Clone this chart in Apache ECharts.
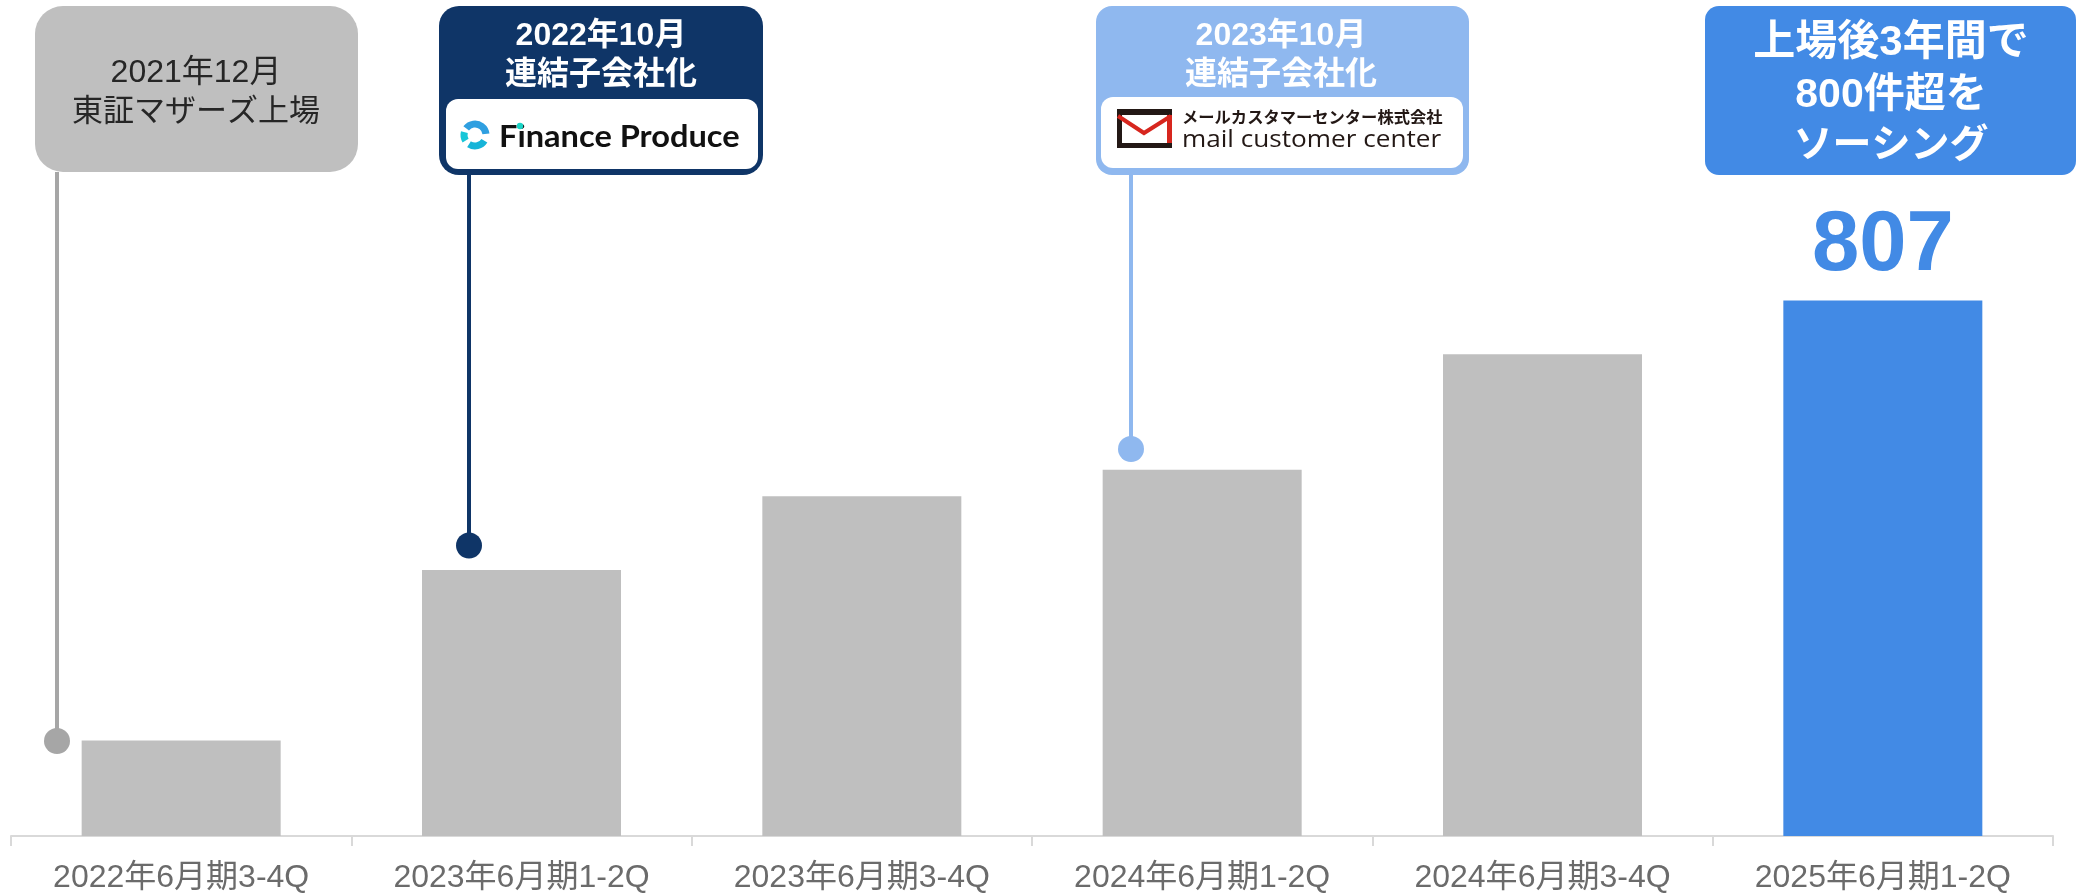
<!DOCTYPE html>
<html><head><meta charset="utf-8">
<style>html,body{margin:0;padding:0;background:#fff}#c{width:2076px;height:894px}</style>
<script src="https://cdn.jsdelivr.net/npm/echarts@6/dist/echarts.min.js"></script>
</head><body><div id="c"></div>
<script>
const categories = ['2022年6月期3-4Q','2023年6月期1-2Q','2023年6月期3-4Q','2024年6月期1-2Q','2024年6月期3-4Q','2025年6月期1-2Q'];
const sourcingValues = [144, 401, 512, 552, 726, 807];
const barColors = ['#bfbfbf','#bfbfbf','#bfbfbf','#bfbfbf','#bfbfbf','#428ae5'];
const font = '"Liberation Sans","Noto Sans CJK JP",sans-serif';

function box(x,y,w,h,r,fill){return {type:'rect',shape:{x,y,width:w,height:h,r},style:{fill},z:10};}
function label(text,x,y,size,color,weight){return {type:'text',x,y,z:12,style:{text,fill:color,font:`${weight} ${size}px ${font}`,textAlign:'center',textVerticalAlign:'middle'}};}
function stem(x,y1,y2,color){return [
 {type:'line',shape:{x1:x,y1,x2:x,y2},style:{stroke:color,lineWidth:4},z:5},
 {type:'circle',shape:{cx:x,cy:y2,r:13},style:{fill:color},z:6}];}
function arc(cx,cy,r,a,b,color){return {type:'arc',shape:{cx,cy,r,startAngle:a,endAngle:b},style:{stroke:color,lineWidth:7,fill:null},z:12};}
function bar(x,y,w,h,fill){return {type:'rect',shape:{x,y,width:w,height:h},style:{fill},z:12};}

const graphics = [
 ...stem(57,172,741,'#a6a6a6'),
 ...stem(469,175,545.5,'#0f3567'),
 ...stem(1131,175,449,'#8fb8ef'),
 box(35,6,323,166,28,'#bfbfbf'),
 label('2021年12月',196,73,32,'#262626','normal'),
 label('東証マザーズ上場',196,112,31,'#262626','normal'),
 box(439,6,324,169,20,'#0f3567'),
 label('2022年10月',601,36,32,'#fff','bold'),
 label('連結子会社化',601,75,32,'#fff','bold'),
 box(446,99,312,70,12,'#fff'),
 arc(475,135,11,-2.5,-0.1,'#2f9fe0'),
 arc(475,135,11,0.55,2.15,'#17b4d8'),
 arc(475,135,11,2.6,3.4,'#18c6d8'),
 {type:'text',x:499,y:137,scaleX:1.086,z:12,style:{text:'Finance Produce',fill:'#111',font:'bold 30px Lato,sans-serif',textAlign:'left',textVerticalAlign:'middle'}},
 {type:'circle',shape:{cx:520,cy:126,r:3.2},style:{fill:'#19d3c5'},z:13},
 box(1096,6,373,169,16,'#8fb8ef'),
 label('2023年10月',1281,36,32,'#fff','bold'),
 label('連結子会社化',1281,75,32,'#fff','bold'),
 box(1101,97,362,71,12,'#fff'),
 bar(1117,109,55,6,'#231815'),
 bar(1117,143,55,5,'#231815'),
 bar(1117,115,5,28,'#231815'),
 bar(1167,115,5,28,'#d7261e'),
 {type:'polyline',shape:{points:[[1118,116],[1144,133],[1171,116]]},style:{stroke:'#d7261e',lineWidth:4,fill:null},z:13},
 {type:'text',x:1182,y:119,z:12,style:{text:'メールカスタマーセンター株式会社',fill:'#231815',font:`bold 16.3px ${font}`,textAlign:'left',textVerticalAlign:'middle'}},
 {type:'text',x:1182,y:140,scaleX:1.09,z:12,style:{text:'mail customer center',fill:'#231815',font:'24px "Open Sans",sans-serif',textAlign:'left',textVerticalAlign:'middle'}},
 box(1705,6,371,169,14,'#428ae5'),
 label('上場後3年間で',1891,43,42,'#fff','bold'),
 label('800件超を',1891,96,41,'#fff','bold'),
 label('ソーシング',1891,146,39,'#fff','bold')
];

const chart = echarts.init(document.getElementById('c'));
chart.setOption({
 animation:false,
 backgroundColor:'#fff',
 grid:{left:11,right:23,top:0,bottom:58},
 xAxis:{type:'category',data:categories,
  axisLine:{lineStyle:{color:'#d9d9d9',width:2}},
  axisTick:{show:true,length:10,lineStyle:{color:'#d9d9d9',width:2}},
  axisLabel:{color:'#6b6b6b',fontSize:32,fontFamily:font,margin:26,interval:0}},
 yAxis:{type:'value',min:0,max:1260,show:false,splitLine:{show:false}},
 series:[{type:'bar',barWidth:199,
  data:sourcingValues.map((v,i)=>({value:v,itemStyle:{color:barColors[i]},
    label:i===5?{show:true,position:'top',distance:11,formatter:'{c}',color:'#428ae5',fontSize:85,fontWeight:'bold',fontFamily:font}:{show:false}}))}],
 graphic:graphics
});
</script></body></html>
